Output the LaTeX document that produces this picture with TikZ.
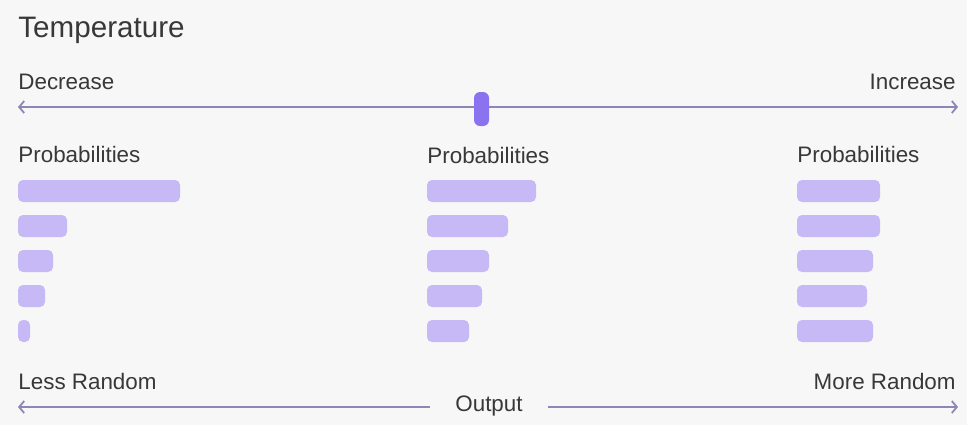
\documentclass[tikz,border=0pt]{standalone}
\usepackage{fontspec}
\setmainfont{Liberation Sans}
\usetikzlibrary{arrows.meta,positioning}

\definecolor{bgcol}{HTML}{F7F7F7}
\definecolor{linecol}{HTML}{8C87B4}
\definecolor{barcol}{HTML}{C6B9F6}
\definecolor{knobcol}{HTML}{8B73EF}
\definecolor{txtcol}{HTML}{383838}

\begin{document}
\begin{tikzpicture}[x=0.5pt, y=-0.5pt,
  >={Straight Barb[length=2.5pt, width=6pt]},
  lbl/.style={inner sep=0pt, text=txtcol, font=\fontsize{11.2}{13}\selectfont},
  axis/.style={draw=linecol, line width=0.9pt},
  bar/.style={fill=barcol, rounded corners=2.5pt},
  knob/.style={fill=knobcol, rounded corners=3pt, minimum width=7.5pt, minimum height=17pt, inner sep=0pt}]
  % background
  \fill[bgcol] (0,0) rectangle (967,425);
  \useasboundingbox (0,0) rectangle (967,425);

  % title and temperature axis
  \node[lbl, anchor=base west, font=\fontsize{14.8}{17}\selectfont] (title) at (18,37) {Temperature};
  \node[lbl, anchor=base west] (dec) at (18,89) {Decrease};
  \node[lbl, anchor=base east] (inc) at (956,89) {Increase};
  \coordinate (tl) at (18,107);
  \coordinate (tr) at (958,107);
  \draw[axis, <->] (tl) -- (tr);
  \node[knob] (knob) at (481.5,109) {};

  % probability columns
  \node[lbl, anchor=base west] (pl) at (18,162) {Probabilities};
  \node[lbl, anchor=base west] (pm) at (427,163) {Probabilities};
  \node[lbl, anchor=base west] (pr) at (797,162) {Probabilities};
  \foreach \w [count=\i] in {162,49,35,27,12}
    \fill[bar] (18,{180+35*(\i-1)}) rectangle +(\w,22);
  \foreach \w [count=\i] in {109,81,62,55,42}
    \fill[bar] (427,{180+35*(\i-1)}) rectangle +(\w,22);
  \foreach \w [count=\i] in {83,83,76,70,76}
    \fill[bar] (797,{180+35*(\i-1)}) rectangle +(\w,22);

  % output axis
  \node[lbl, anchor=base west] (less) at (18,389) {Less Random};
  \node[lbl, anchor=base east] (more) at (956,389) {More Random};
  \node[lbl, anchor=base, inner xsep=12.5pt] (out) at (489,411) {Output};
  \coordinate (bl) at (18,407);
  \coordinate (br) at (958,407);
  \draw[axis, <-] (bl) -- (bl -| out.west);
  \draw[axis, ->] (br -| out.east) -- (br);
\end{tikzpicture}
\end{document}
